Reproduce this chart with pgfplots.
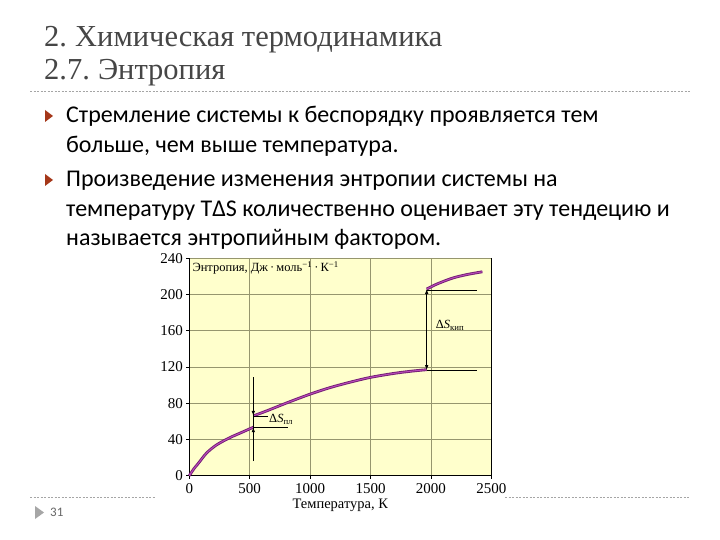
\documentclass[border=0pt]{standalone}
\usepackage{fontspec}
\setmainfont{Liberation Serif}
\newfontfamily\bodyfont{Carlito}
\usepackage{pgfplots}
\pgfplotsset{compat=1.18}
\usetikzlibrary{arrows.meta}

\definecolor{plotbg}{RGB}{255,255,204}
\definecolor{gridc}{RGB}{150,150,110}
\definecolor{curvedark}{RGB}{115,30,115}
\definecolor{curvelight}{RGB}{185,75,185}
\definecolor{bulletc}{RGB}{165,55,25}
\definecolor{titlegray}{RGB}{70,70,70}
\definecolor{dashc}{RGB}{165,165,165}

\begin{document}
\begin{tikzpicture}
\path[use as bounding box, fill=white] (0pt,0pt) rectangle (720pt,-540pt);

% slide title
\node[anchor=base west, inner sep=0pt, text=titlegray, font=\fontsize{30.5}{30.5}\selectfont] at (44pt,-47pt) {2.\hspace{-2pt} Химическая термодинамика};
\node[anchor=base west, inner sep=0pt, text=titlegray, font=\fontsize{30.5}{30.5}\selectfont] at (44pt,-80pt) {2.7.\hspace{-2pt} Энтропия};
\draw[dashc, line width=0.7pt, dash pattern=on 2pt off 1.5pt] (30pt,-91pt) -- (690pt,-91pt);

% bullets
\fill[bulletc] (45pt,-110pt) -- (53pt,-116pt) -- (45pt,-122pt) -- cycle;
\fill[bulletc] (45pt,-174pt) -- (53pt,-180pt) -- (45pt,-186pt) -- cycle;
\begin{scope}[every node/.style={anchor=base west, inner sep=0pt, font=\bodyfont\fontsize{24}{24}\selectfont}]
\node at (66pt,-123pt) {Стремление системы к беспорядку проявляется тем};
\node at (66pt,-153pt) {больше, чем выше температура.};
\node at (66pt,-187pt) {Произведение изменения энтропии системы на};
\node at (66pt,-216pt) {температуру TΔS количественно оценивает эту тендецию и};
\node at (66pt,-245pt) {называется энтропийным фактором.};
\end{scope}

% footer
\draw[dashc, line width=0.7pt, dash pattern=on 2pt off 1.5pt] (30pt,-497pt) -- (155pt,-497pt);
\draw[dashc, line width=0.7pt, dash pattern=on 2pt off 1.5pt] (505pt,-497pt) -- (690pt,-497pt);
\fill[gray!70] (35pt,-506pt) -- (44pt,-512.5pt) -- (35pt,-519pt) -- cycle;
\node[anchor=west, inner sep=0pt, text=gray!80!black, font=\bodyfont\fontsize{13}{13}\selectfont] at (50pt,-512.5pt) {31};

\begin{axis}[
    at={(189.3pt,-475.7pt)}, anchor=south west,
    scale only axis,
    width=302pt, height=217.5pt,
    xmin=0, xmax=2500, ymin=0, ymax=240,
    xtick={0,500,1000,1500,2000,2500},
    ytick={0,40,80,120,160,200,240},
    axis x line*=bottom, axis y line*=left,
    axis line style={black, line width=1pt, -},
    axis background/.style={fill=plotbg},
    grid=major,
    grid style={gridc, line width=0.6pt},
    tick style={black, line width=0.6pt},
    major tick length=3pt,
    tick align=outside,
    /pgf/number format/assume math mode=true,
    /pgf/number format/1000 sep={},
    ticklabel style={font=\fontsize{15}{15}\selectfont},
    xticklabel style={yshift=-1pt},
    clip=false,
]
% solid phase
\addplot[curvedark, line width=2.8pt, smooth] coordinates {
  (0,0) (40,8) (74,13.5) (143,25) (226,34) (336,42) (446,48.5) (530,53.5)};
\addplot[curvelight, line width=1pt, smooth] coordinates {
  (0,0) (40,8) (74,13.5) (143,25) (226,34) (336,42) (446,48.5) (530,53.5)};
% liquid phase
\addplot[curvedark, line width=2.8pt, smooth] coordinates {
  (530,66) (650,72) (800,80) (1000,90) (1160,97) (1325,103) (1500,108.5) (1700,113) (1850,115.5) (1965,117)};
\addplot[curvelight, line width=1pt, smooth] coordinates {
  (530,66) (650,72) (800,80) (1000,90) (1160,97) (1325,103) (1500,108.5) (1700,113) (1850,115.5) (1965,117)};
% gas phase
\addplot[curvedark, line width=2.8pt, smooth] coordinates {
  (1965,206) (2050,211.5) (2178,218) (2300,222) (2426,225)};
\addplot[curvelight, line width=1pt, smooth] coordinates {
  (1965,206) (2050,211.5) (2178,218) (2300,222) (2426,225)};

% right frame edge
\addplot[black, line width=0.8pt] coordinates {(2500,0) (2500,240)};

% annotations: melting
\addplot[black, line width=0.7pt] coordinates {(530,16) (530,109)};
\addplot[black, line width=0.7pt, -{Latex[length=5pt,width=3.5pt]}] coordinates {(530,80) (530,66)};
\addplot[black, line width=0.7pt, -{Latex[length=5pt,width=3.5pt]}] coordinates {(530,38) (530,53.5)};
\addplot[black, line width=0.7pt] coordinates {(530,66) (650,66)};
\addplot[black, line width=0.7pt] coordinates {(530,53.5) (815,53.5)};
\node[anchor=west, inner sep=0pt, font=\fontsize{12.5}{12.5}\selectfont] at (axis cs:660,62) {Δ\textit{S}\textsubscript{пл}};

% annotations: boiling
\addplot[black, line width=0.7pt, {Latex[length=5pt,width=3.5pt]}-{Latex[length=5pt,width=3.5pt]}] coordinates {(1965,206) (1965,116.5)};
\addplot[black, line width=0.7pt] coordinates {(1965,205) (2385,205)};
\addplot[black, line width=0.7pt] coordinates {(1965,116.5) (2385,116.5)};
\node[anchor=west, inner sep=0pt, font=\fontsize{12.5}{12.5}\selectfont] at (axis cs:2040,166) {Δ\textit{S}\textsubscript{кип}};

% labels
\node[anchor=west, inner sep=0pt, font=\fontsize{12.5}{12.5}\selectfont] at (axis cs:25,229) {Энтропия, Дж\,·\,моль\textsuperscript{−1}\,·\,К\textsuperscript{−1}};
\node[inner sep=0pt, font=\fontsize{14.5}{14.5}\selectfont] at (axis cs:1250,-33) {Температура, К};
\end{axis}
\end{tikzpicture}
\end{document}
